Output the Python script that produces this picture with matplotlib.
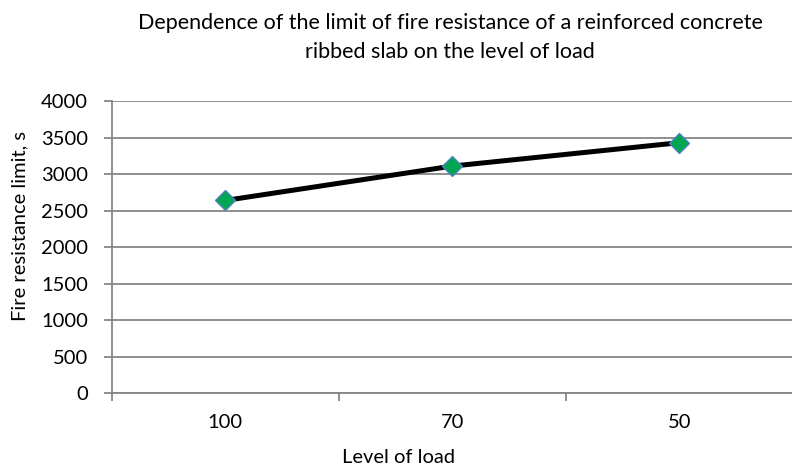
import numpy as np
import matplotlib.pyplot as plt


OUT_FILE = "out.png"

# chart data
load_levels = ["100", "70", "50"]
fire_limit_s = [2640, 3110, 3430]
y_ticks = [0, 500, 1000, 1500, 2000, 2500, 3000, 3500, 4000]

TITLE = ("Dependence of the limit of fire resistance of a reinforced concrete\n"
         "ribbed slab on the level of load")
X_LABEL = "Level of load"
Y_LABEL = "Fire resistance limit, s"

GRID_GREY = "#868686"
FONT = "Lato"
FS = 14.5
TITLE_FS = 15.5


def main():
    plt.rcParams["font.family"] = [FONT, "DejaVu Sans"]

    fig = plt.figure(figsize=(7.92, 4.67), dpi=100)
    ax = fig.add_axes([0.141, 0.1574, 0.86, 0.6263])

    x = np.arange(len(load_levels))
    ax.plot(x, fire_limit_s, color="black", linewidth=3.6, zorder=3,
            solid_capstyle="butt")
    ax.plot(x, fire_limit_s, linestyle="none", marker="D", markersize=10,
            markerfacecolor="#00A651", markeredgecolor="#4F81BD",
            markeredgewidth=1.0, zorder=4)

    ax.set_xlim(-0.5, len(load_levels) - 0.5)
    ax.set_ylim(0, 4000)
    ax.set_yticks(y_ticks)
    ax.set_yticklabels([str(v) for v in y_ticks])

    # category boundaries as major ticks, labels on minor ticks
    ax.set_xticks(np.arange(len(load_levels) + 1) - 0.5)
    ax.set_xticklabels([])
    ax.set_xticks(x, minor=True)
    ax.set_xticklabels(load_levels, minor=True)

    ax.tick_params(axis="y", which="major", length=6, width=1.3,
                   color=GRID_GREY, pad=11, labelsize=FS)
    ax.tick_params(axis="x", which="major", length=6, width=1.3,
                   color=GRID_GREY)
    ax.tick_params(axis="x", which="minor", length=0, pad=15, labelsize=FS)

    ax.yaxis.grid(True, color=GRID_GREY, linewidth=1.3)
    ax.set_axisbelow(True)

    for side in ["top", "right"]:
        ax.spines[side].set_visible(False)
    for side in ["left", "bottom"]:
        ax.spines[side].set_color(GRID_GREY)
        ax.spines[side].set_linewidth(1.3)
    ax.spines["bottom"].set_zorder(2.5)

    lines = TITLE.split("\n")
    fig.text(450 / 792, 1 - 29.3 / 467, lines[0], ha="center", va="baseline",
             fontsize=TITLE_FS)
    fig.text(450 / 792, 1 - 57.7 / 467, lines[1], ha="center", va="baseline",
             fontsize=TITLE_FS)

    fig.text(399 / 792, 1 - 463 / 467, X_LABEL, ha="center", va="baseline",
             fontsize=FS)
    fig.text(20 / 792, 1 - 226 / 467, Y_LABEL, ha="center", va="center",
             rotation=90, fontsize=FS)

    fig.savefig(OUT_FILE, dpi=100)
    plt.close(fig)


if __name__ == "__main__":
    main()
